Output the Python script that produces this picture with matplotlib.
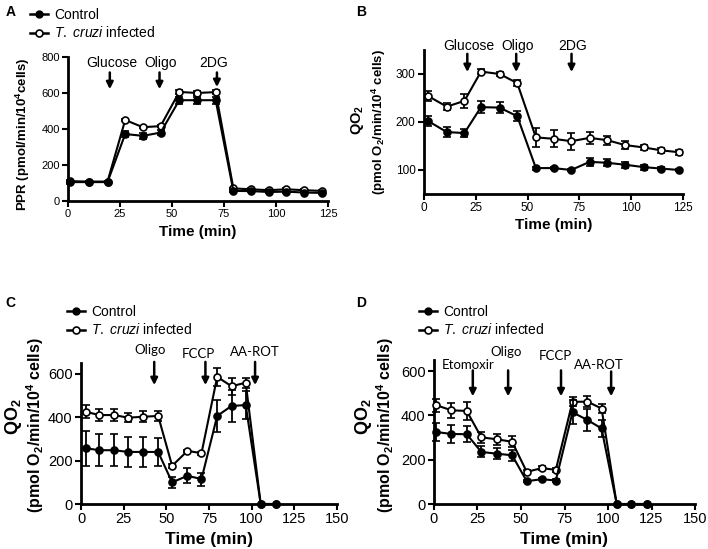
import matplotlib
matplotlib.use("Agg")
import matplotlib.pyplot as plt
from matplotlib.lines import Line2D

plt.rcParams['font.family'] = ['Liberation Sans', 'DejaVu Sans']
plt.rcParams['mathtext.fontset'] = 'custom'
plt.rcParams['mathtext.it'] = 'Liberation Sans:italic'
plt.rcParams['mathtext.rm'] = 'Liberation Sans'
plt.rcParams['mathtext.bf'] = 'Liberation Sans:bold'
plt.rcParams['mathtext.default'] = 'regular'

# ---------------- data ----------------
tA = [1, 10, 19, 27.5, 36, 44.5, 53.5, 62, 71, 79.5, 88, 96.5, 105, 113.5, 122]
A_ctrl = [105, 105, 105, 372, 362, 380, 560, 560, 560, 56, 55, 50, 52, 47, 45]
A_ctrl_err = [8, 5, 5, 15, 15, 15, 20, 20, 20, 5, 5, 5, 5, 5, 5]
A_inf = [110, 108, 108, 450, 410, 416, 606, 600, 605, 70, 65, 60, 65, 60, 56]
A_inf_err = [5, 5, 5, 5, 5, 5, 10, 10, 10, 5, 5, 5, 5, 5, 5]

tB = [2, 11, 19.5, 27.5, 36.5, 45, 54, 62.5, 71, 80, 88.5, 97, 106, 114.5, 123]
B_ctrl = [202, 179, 177, 231, 230, 212, 104, 104, 100, 117, 115, 111, 106, 103, 100]
B_ctrl_err = [10, 10, 8, 13, 12, 10, 3, 2, 2, 8, 7, 6, 5, 3, 3]
B_inf = [254, 232, 244, 305, 300, 281, 168, 165, 160, 167, 162, 152, 147, 141, 137]
B_inf_err = [10, 8, 15, 5, 5, 6, 20, 18, 18, 12, 9, 8, 5, 5, 5]

tC = [2.9, 10.7, 19.3, 27.7, 36.1, 45.2, 53.4, 62.4, 70.6, 79.8, 88.2, 96.5, 105.3, 114.1]
C_ctrl = [257, 248, 248, 240, 240, 240, 100, 130, 115, 406, 452, 456, 0, 0]
C_ctrl_err = [80, 75, 75, 70, 70, 65, 25, 35, 30, 75, 75, 65, 0, 0]
C_inf = [425, 410, 410, 398, 402, 406, 176, 245, 234, 586, 543, 559, 0, 0]
C_inf_err = [30, 28, 28, 20, 25, 25, 8, 6, 8, 40, 40, 22, 0, 0]

tD = [1.3, 10, 18.8, 27.2, 36.1, 44.9, 53.3, 62, 70, 79.6, 88.2, 96.3, 105, 113.4, 122.4]
D_ctrl = [325, 316, 315, 235, 227, 220, 103, 112, 106, 414, 379, 341, 0, 0, 0]
D_ctrl_err = [40, 40, 35, 25, 25, 25, 5, 5, 5, 55, 50, 40, 0, 0, 0]
D_inf = [446, 423, 420, 301, 292, 281, 145, 162, 154, 461, 462, 431, 0, 0, 0]
D_inf_err = [30, 35, 40, 25, 25, 25, 8, 8, 8, 20, 25, 20, 0, 0, 0]

labels = ["Control", r"$\it{T.\ cruzi}$ infected"]

# annotations: (label, x, text_y, arrow_top, arrow_bottom, text_x)
A_marks = [("Glucose", 20.1, 766, 714, 621, 21), ("Oligo", 44, 766, 714, 621, 44.5), ("2DG", 71.6, 766, 714, 633, 70)]
B_marks = [("Glucose", 20.9, 358, 342, 304, 21.5), ("Oligo", 44.5, 358, 342, 304, 45), ("2DG", 71.2, 358, 342, 304, 71.5)]
C_marks = [("Oligo", 42.9, 709, 655, 548, 40.7), ("FCCP", 72.9, 693, 655, 548, 69), ("AA-ROT", 102, 701, 655, 548, 102)]
D_marks = [("Etomoxir", 22.3, 628, 603, 486, 19.5), ("Oligo", 42.6, 685, 603, 486, 41.5), ("FCCP", 73, 666, 603, 486, 69.5),
           ("AA-ROT", 101.8, 628, 598, 486, 95)]

W, H = 708, 549
fig = plt.figure(figsize=(W / 100, H / 100), dpi=100)


def rect(l, r, t, b):
    return [l / W, 1 - b / H, (r - l) / W, (b - t) / H]


def style(ax, fs):
    for s in ['top', 'right']:
        ax.spines[s].set_visible(False)
    for s in ['left', 'bottom']:
        ax.spines[s].set_linewidth(2)
    ax.tick_params(width=1.5, length=4, labelsize=fs, pad=2)


def series(ax, t, y, e, filled, msize=5):
    ax.errorbar(t, y, yerr=e, color='black', lw=1.5, elinewidth=1.3, capsize=3, capthick=1.3,
                marker='o', ms=msize, mfc='black' if filled else 'white', mec='black', mew=1.2,
                clip_on=False, zorder=4 if filled else 3)


def marks(ax, lst, fs, family):
    for lab, x, ty, a0, a1, tx in lst:
        ax.annotate('', xy=(x, a1), xytext=(x, a0),
                    arrowprops=dict(arrowstyle='-|>', lw=1.8, color='black', mutation_scale=10,
                                    shrinkA=0, shrinkB=0), annotation_clip=False)
        ax.text(tx, ty, lab, ha='center', va='center', fontsize=fs, family=family, clip_on=False)


# ---------- A ----------
axA = fig.add_axes(rect(68, 328, 57, 201))
series(axA, tA, A_ctrl, A_ctrl_err, True)
series(axA, tA, A_inf, A_inf_err, False)
axA.set_xlim(0, 125)
axA.set_ylim(0, 800)
axA.set_xticks([0, 25, 50, 75, 100, 125])
axA.set_yticks([0, 200, 400, 600, 800])
style(axA, 8)
marks(axA, A_marks, 10, 'Liberation Sans')
axA.set_xlabel("Time (min)", fontsize=11, fontweight='bold', labelpad=4)
fig.text(23 / W, 1 - 134 / H, "PPR (pmol/min/10$^4$cells)", rotation=90, ha='center', va='center',
         fontsize=9.5, fontweight='bold')

# ---------- B ----------
axB = fig.add_axes(rect(424, 683, 50, 194))
series(axB, tB, B_ctrl, B_ctrl_err, True)
series(axB, tB, B_inf, B_inf_err, False)
axB.set_xlim(0, 125)
axB.set_ylim(50, 350)
axB.set_xticks([0, 25, 50, 75, 100, 125])
axB.set_yticks([100, 200, 300])
style(axB, 8.5)
marks(axB, B_marks, 10, 'Liberation Sans')
axB.set_xlabel("Time (min)", fontsize=11, fontweight='bold', labelpad=3)
fig.text(357 / W, 1 - 120 / H, "QO$_2$", rotation=90, ha='center', va='center', fontsize=10.5, fontweight='bold')
fig.text(379 / W, 1 - 122 / H, "(pmol O$_2$/min/10$^4$ cells)", rotation=90, ha='center', va='center',
         fontsize=9.5, fontweight='bold')

# ---------- C ----------
axC = fig.add_axes(rect(81, 337, 363, 504))
series(axC, tC, C_ctrl, C_ctrl_err, True)
series(axC, tC, C_inf, C_inf_err, False)
axC.set_xlim(0, 150)
axC.set_ylim(0, 650)
axC.set_xticks([0, 25, 50, 75, 100, 125, 150])
axC.set_yticks([0, 200, 400, 600])
style(axC, 10.5)
marks(axC, C_marks, 9.5, 'Lato')
axC.set_xlabel("Time (min)", fontsize=12.5, fontweight='bold', labelpad=4)
fig.text(13 / W, 1 - 417 / H, "QO$_2$", rotation=90, ha='center', va='center', fontsize=13, fontweight='bold')
fig.text(35 / W, 1 - 425 / H, "(pmol O$_2$/min/10$^4$ cells)", rotation=90, ha='center', va='center',
         fontsize=11.5, fontweight='bold')

# ---------- D ----------
axD = fig.add_axes(rect(434, 695, 360, 504))
series(axD, tD, D_ctrl, D_ctrl_err, True)
series(axD, tD, D_inf, D_inf_err, False)
axD.set_xlim(0, 150)
axD.set_ylim(0, 650)
axD.set_xticks([0, 25, 50, 75, 100, 125, 150])
axD.set_yticks([0, 200, 400, 600])
style(axD, 10.5)
marks(axD, D_marks, 9.5, 'Lato')
axD.set_xlabel("Time (min)", fontsize=12.5, fontweight='bold', labelpad=4)
fig.text(363 / W, 1 - 417 / H, "QO$_2$", rotation=90, ha='center', va='center', fontsize=13, fontweight='bold')
fig.text(385 / W, 1 - 425 / H, "(pmol O$_2$/min/10$^4$ cells)", rotation=90, ha='center', va='center',
         fontsize=11.5, fontweight='bold')

# ---------- legends ----------
handles = [Line2D([], [], color='black', lw=1.8, marker='o', ms=5, mfc='black', mec='black'),
           Line2D([], [], color='black', lw=1.8, marker='o', ms=5, mfc='white', mec='black', mew=1.2)]
for (lx, ly) in [(30, 8), (67, 305), (419, 305)]:
    fig.legend(handles, labels, loc='upper left', bbox_to_anchor=(lx / W, 1 - ly / H), frameon=False,
               fontsize=10, handlelength=1.3, handletextpad=0.45, labelspacing=0.25, borderpad=0, borderaxespad=0)

# ---------- panel letters ----------
for lab, x, y in [("A", 6, 12), ("B", 356, 12), ("C", 5, 303), ("D", 356, 303)]:
    fig.text(x / W, 1 - y / H, lab, fontsize=10, fontweight='bold', ha='left', va='center')

fig.savefig("out.png", dpi=100)
